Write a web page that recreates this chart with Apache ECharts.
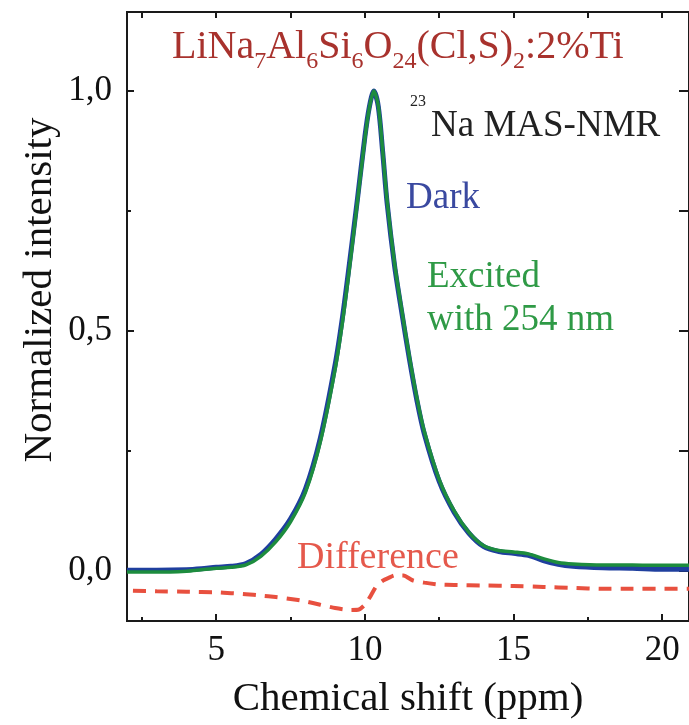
<!DOCTYPE html>
<html>
<head>
<meta charset="utf-8">
<script src="https://cdn.jsdelivr.net/npm/echarts@6/dist/echarts.min.js"></script>
<style>
  html, body { margin: 0; padding: 0; background: #fff; }
  #chart { width: 689px; height: 725px; }
</style>
</head>
<body>
<div id="chart"></div>
<script>
// chemical shift (ppm) of the measured points
var shiftPpm = [2.0, 3.0, 4.0, 4.5, 5.0, 5.5, 6.0, 6.5, 7.0, 7.5, 8.0, 8.5, 9.0, 9.25, 9.5, 9.75,
  10.0, 10.15, 10.3, 10.45, 10.6, 10.75, 11.0, 11.25, 11.5, 11.75, 12.0, 12.5, 13.0, 13.5,
  14.0, 14.5, 15.0, 15.5, 16.0, 16.5, 17.0, 18.0, 19.0, 20.0, 20.9];
// Dark (blue)
var darkIntensity = [0.001, 0.001, 0.002, 0.004, 0.007, 0.009, 0.015, 0.034, 0.066, 0.108, 0.17, 0.276,
  0.43, 0.53, 0.65, 0.775, 0.905, 0.967, 1.0, 0.968, 0.872, 0.765, 0.635, 0.535, 0.44, 0.355,
  0.285, 0.186, 0.122, 0.078, 0.05, 0.04, 0.036, 0.032, 0.021, 0.013, 0.009, 0.006, 0.005, 0.003, 0.003];
// Excited with 254 nm (green)
var excitedIntensity = [-0.003, -0.003, -0.001, 0.002, 0.005, 0.007, 0.012, 0.03, 0.06, 0.102, 0.163, 0.268,
  0.42, 0.52, 0.64, 0.77, 0.9, 0.965, 1.0, 0.97, 0.875, 0.77, 0.64, 0.54, 0.445, 0.36,
  0.29, 0.19, 0.125, 0.08, 0.052, 0.042, 0.039, 0.035, 0.025, 0.017, 0.014, 0.012, 0.012, 0.011, 0.011];
// Difference (red dashed)
var diffShift = [2.2, 3.0, 4.0, 5.0, 5.5, 6.0, 6.5, 7.0, 7.5, 8.0, 8.5, 9.0, 9.5, 9.8, 10.0, 10.2, 10.4,
  10.6, 10.8, 11.0, 11.3, 11.6, 12.0, 12.5, 13.0, 14.0, 15.0, 16.0, 17.0, 18.0, 19.0, 20.0, 20.9];
var diffIntensity = [-0.042, -0.043, -0.044, -0.045, -0.047, -0.049, -0.052, -0.055, -0.059, -0.064, -0.071,
  -0.078, -0.082, -0.081, -0.071, -0.052, -0.031, -0.021, -0.015, -0.010, -0.010, -0.020, -0.025,
  -0.029, -0.030, -0.031, -0.032, -0.034, -0.036, -0.038, -0.038, -0.038, -0.038];

var xTicks = [5, 10, 15, 20];
var xMinorTicks = [2.5, 7.5, 12.5, 17.5];
var yTicks = [0, 0.5, 1.0];
var yMinorTicks = [0.25, 0.75];

function pairs(xs, ys) {
  return xs.map(function (x, i) { return [x, ys[i]]; });
}

var FONT = '"Liberation Serif", "Times New Roman", serif';
var axisLine = { show: true, onZero: false, lineStyle: { color: '#1a1a1a', width: 2 } };

var myChart = echarts.init(document.getElementById('chart'));

var option = {
  animation: false,
  backgroundColor: '#fff',
  grid: { left: 127, right: -5, top: 12, bottom: 103 },
  xAxis: [{
    type: 'value', min: 2, max: 20.9, position: 'bottom',
    axisLine: axisLine,
    axisTick: { show: true, inside: true, length: 7, customValues: xTicks, lineStyle: { color: '#1a1a1a', width: 2 } },
    axisLabel: { customValues: xTicks, margin: 12, fontSize: 35, fontFamily: FONT, color: '#111' },
    splitLine: { show: false },
    name: 'Chemical shift (ppm)', nameLocation: 'middle', nameGap: 58,
    nameTextStyle: { fontSize: 41, fontFamily: FONT, color: '#111' }
  }, {
    type: 'value', min: 2, max: 20.9, position: 'bottom',
    axisLine: axisLine,
    axisTick: { show: true, inside: true, length: 4, customValues: xMinorTicks, lineStyle: { color: '#1a1a1a', width: 2 } },
    axisLabel: { show: false },
    splitLine: { show: false }
  }, {
    type: 'value', min: 2, max: 20.9, position: 'top',
    axisLine: axisLine,
    axisTick: { show: true, inside: true, length: 6, customValues: xMinorTicks.concat(xTicks), lineStyle: { color: '#1a1a1a', width: 2 } },
    axisLabel: { show: false },
    splitLine: { show: false }
  }],
  yAxis: [{
    type: 'value', min: -0.105, max: 1.165, position: 'left',
    axisLine: axisLine,
    axisTick: { show: true, inside: true, length: 7, customValues: yTicks, lineStyle: { color: '#1a1a1a', width: 2 } },
    axisLabel: {
      customValues: yTicks, margin: 15, fontSize: 35, fontFamily: FONT, color: '#111',
      formatter: function (v) { return v.toFixed(1).replace('.', ','); }
    },
    splitLine: { show: false }
  }, {
    type: 'value', min: -0.105, max: 1.165, position: 'left',
    axisLine: axisLine,
    axisTick: { show: true, inside: true, length: 4, customValues: yMinorTicks, lineStyle: { color: '#1a1a1a', width: 2 } },
    axisLabel: { show: false },
    splitLine: { show: false }
  }, {
    type: 'value', min: -0.105, max: 1.165, position: 'right',
    axisLine: axisLine,
    axisTick: { show: true, inside: true, length: 10, customValues: yTicks.concat(yMinorTicks), lineStyle: { color: '#1a1a1a', width: 2 } },
    axisLabel: { show: false },
    splitLine: { show: false }
  }],
  title: [{
    left: 172, top: 20, padding: 0,
    text: '{m|LiNa}{s|7}{m|Al}{s|6}{m|Si}{s|6}{m|O}{s|24}{m|(Cl,S)}{s|2}{m|:2%Ti}',
    textStyle: {
      fontWeight: 'normal',
      rich: {
        m: { fontSize: 40, fontFamily: FONT, fontWeight: 'normal', color: '#a8322d' },
        s: { fontSize: 24, fontFamily: FONT, fontWeight: 'normal', color: '#a8322d', padding: [30, 0, 0, 0] }
      }
    }
  }, {
    left: 410, top: 94, padding: 0, text: '23',
    textStyle: { fontSize: 16, fontFamily: FONT, fontWeight: 'normal', color: '#222' }
  }, {
    left: 431, top: 108, padding: 0, text: 'Na MAS-NMR',
    textStyle: { fontSize: 37, fontFamily: FONT, fontWeight: 'normal', color: '#222' }
  }, {
    left: 406, top: 180, padding: 0, text: 'Dark',
    textStyle: { fontSize: 37, fontFamily: FONT, fontWeight: 'normal', color: '#3a49a0' }
  }, {
    left: 427, top: 259, padding: 0, text: 'Excited',
    textStyle: { fontSize: 37, fontFamily: FONT, fontWeight: 'normal', color: '#2f9a46' }
  }, {
    left: 427, top: 302, padding: 0, text: 'with 254 nm',
    textStyle: { fontSize: 37, fontFamily: FONT, fontWeight: 'normal', color: '#2f9a46' }
  }, {
    left: 297, top: 539, padding: 0, text: 'Difference',
    textStyle: { fontSize: 38, fontFamily: FONT, fontWeight: 'normal', color: '#e5594c' }
  }],
  graphic: [{
    type: 'text', x: 40, y: 290, rotation: Math.PI / 2,
    style: {
      text: 'Normalized intensity', font: '41px ' + FONT, fill: '#111',
      align: 'center', verticalAlign: 'middle', textAlign: 'center', textVerticalAlign: 'middle'
    }
  }],
  series: [{
    name: 'Difference', type: 'line', showSymbol: false, smooth: 0.2,
    data: pairs(diffShift, diffIntensity),
    lineStyle: { color: '#e8503f', width: 4, type: [13, 9] }
  }, {
    name: 'Dark', type: 'line', showSymbol: false, smooth: 0.3,
    data: pairs(shiftPpm, darkIntensity),
    lineStyle: { color: '#1f3f9e', width: 5 }
  }, {
    name: 'Excited', type: 'line', showSymbol: false, smooth: 0.3,
    data: pairs(shiftPpm, excitedIntensity),
    lineStyle: { color: '#1d8c3e', width: 3.5 }
  }]
};

myChart.setOption(option);
</script>
</body>
</html>
